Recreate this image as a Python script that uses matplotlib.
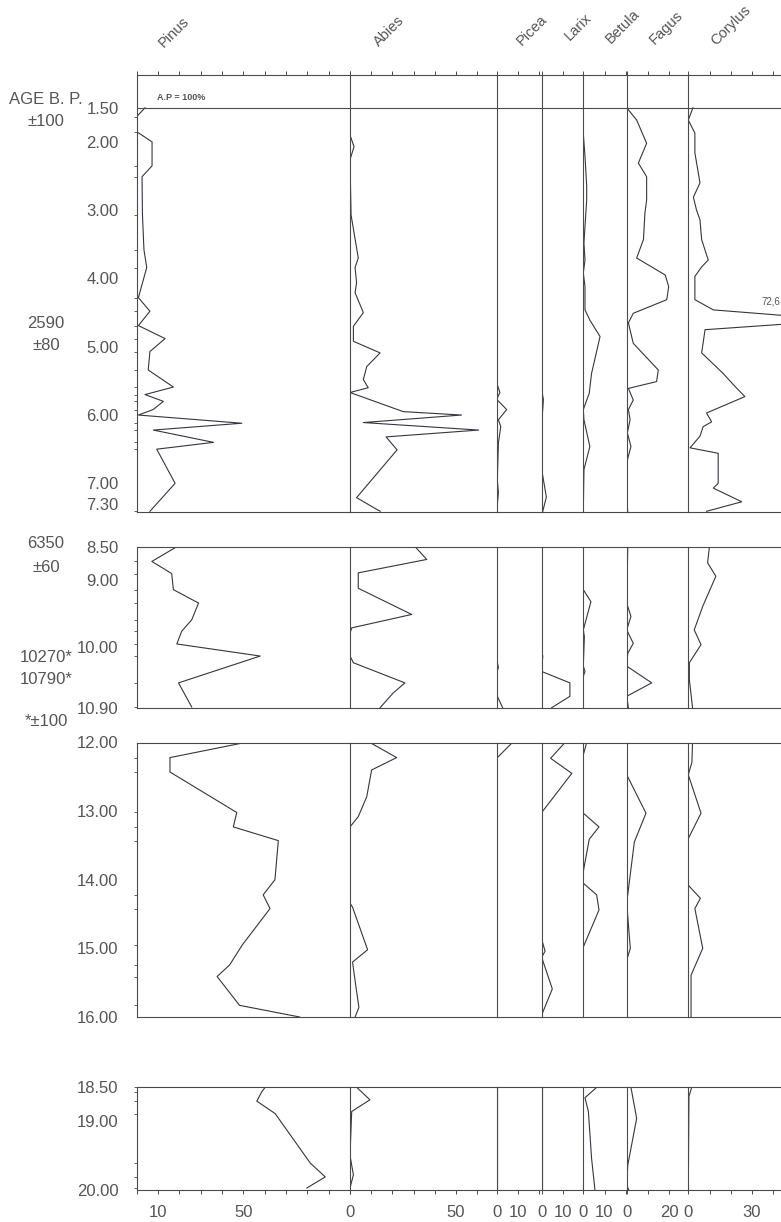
import matplotlib
matplotlib.use('Agg')
import matplotlib.pyplot as plt
from matplotlib.ticker import MultipleLocator, NullLocator

plt.rcParams['font.family'] = ['Liberation Sans', 'DejaVu Sans']

# ---- data: (depth, percent) ----
taxa = ['Pinus', 'Abies', 'Picea', 'Larix', 'Betula', 'Fagus', 'Corylus']

pinus = [
    (1.50, 96.1), (1.63, 100), (1.85, 100), (2.00, 92.8), (2.35, 92.8), (2.51, 97.5),
    (3.07, 97.3), (3.58, 96.6), (3.84, 95.3), (4.28, 99.2), (4.48, 93.8), (4.69, 99.2),
    (4.88, 86.7), (5.07, 93.8), (5.34, 94.6), (5.59, 82.8), (5.70, 96.1), (5.80, 87.5),
    (5.92, 92.3), (6.00, 99.2), (6.12, 50.7), (6.22, 92.2), (6.40, 64.0), (6.50, 90.6),
    (7.00, 82.0), (7.41, 93.8),
    (8.50, 81.2), (8.72, 92.9), (8.90, 83.6), (9.14, 82.8), (9.34, 71.0), (9.59, 74.2),
    (9.76, 78.9), (9.95, 81.2), (10.13, 42.1), (10.53, 80.4), (10.89, 74.2),
    (12.00, 49.2), (12.22, 84.4), (12.43, 84.4), (13.02, 53.1), (13.23, 54.7), (13.43, 33.6),
    (14.00, 35.2), (14.22, 40.7), (14.42, 37.5), (14.95, 50.5), (15.24, 56.4), (15.41, 62.3),
    (15.83, 51.8), (16.00, 23.6),
    (18.51, 39.8), (18.57, 41.3), (18.71, 43.7), (18.89, 35.1), (19.61, 18.6), (19.81, 11.6),
    (19.97, 20.2),
]
abies = [
    (1.50, 0), (1.90, 0), (2.07, 1.9), (2.26, 0), (3.07, 0.5), (3.70, 3.9), (3.84, 2.4),
    (4.06, 3.1), (4.21, 2.4), (4.50, 6.3), (4.70, 1.6), (4.92, 1.6), (5.09, 14.2), (5.29, 7.9),
    (5.48, 6.3), (5.60, 8.6), (5.67, 0), (5.95, 25.1), (6.00, 52.6), (6.11, 6.3), (6.22, 60.7),
    (6.32, 17.0), (6.51, 22.2), (7.21, 3.1), (7.41, 14.2),
    (8.50, 30.7), (8.69, 36.2), (8.89, 3.9), (9.12, 3.9), (9.51, 29.1), (9.71, 0.8), (9.79, 0),
    (10.13, 0), (10.23, 1.6), (10.53, 25.9), (10.68, 20.4), (10.90, 14.2),
    (12.00, 9.4), (12.22, 22.0), (12.40, 10.2), (12.79, 7.9), (13.08, 3.9), (13.23, 0),
    (14.34, 0), (14.40, 1.2), (15.02, 8.3), (15.20, 1.2), (15.56, 2.8), (15.86, 4.2), (16.00, 2.4),
    (18.51, 3.2), (18.69, 9.4), (18.86, 0.8), (19.50, 0), (19.78, 1.6), (19.97, 0),
]
picea = [
    (5.53, 0), (5.67, 1.5), (5.77, 0), (5.92, 4.7), (6.07, 0.8), (6.17, 1.9), (6.41, 0.8),
    (6.95, 0.3), (7.14, 0.8), (7.41, 0),
    (8.50, 0), (10.18, 0), (10.30, 0.8), (10.38, 0), (10.71, 0), (10.90, 2.8),
    (12.00, 7.4), (12.23, 0), (16.00, 0),
    (18.50, 0), (20.00, 0),
]
larix = [
    (1.50, 0), (5.64, 0), (5.77, 0.8), (5.92, 0.5), (6.07, 0), (6.80, 0), (7.20, 2.2), (7.41, 0.5),
    (8.50, 0), (10.06, 0), (10.13, 0.5), (10.36, 0), (10.53, 13.3), (10.73, 13.3), (10.90, 4.7),
    (12.00, 11.0), (12.23, 4.2), (12.45, 14.2), (13.02, 0), (14.87, 0), (15.04, 1.6), (15.13, 0),
    (15.59, 5.0), (15.97, 0), (16.00, 0),
    (18.50, 0), (20.00, 0),
]
betula = [
    (1.50, 0), (1.88, 0), (2.21, 0.8), (2.65, 1.6), (2.85, 1.6), (3.48, 0.3), (3.73, 0.8),
    (3.92, 0), (4.12, 0.8), (4.46, 0.8), (4.61, 3.1), (4.85, 7.9), (5.39, 3.9), (5.68, 2.8),
    (5.92, 0), (6.07, 0.3), (6.46, 3.1), (6.80, 0.3), (7.41, 0),
    (8.50, 0), (9.14, 0), (9.32, 3.6), (9.74, 0), (9.84, 0.5), (10.28, 0), (10.36, 0.8),
    (10.43, 0), (10.90, 0),
    (12.00, 1.6), (12.18, 0), (13.03, 0), (13.23, 7.4), (13.41, 2.8), (13.88, 0), (14.05, 0),
    (14.22, 6.3), (14.44, 7.4), (14.98, 0), (16.00, 0),
    (18.51, 6.3), (18.66, 0.8), (18.86, 2.4), (19.54, 3.9), (20.00, 5.5),
]
fagus = [
    (1.50, 0), (1.68, 4.7), (2.02, 9.4), (2.31, 5.5), (2.51, 9.4), (2.85, 9.4), (3.04, 8.6),
    (3.43, 7.9), (3.70, 4.7), (3.95, 18.2), (4.12, 19.8), (4.31, 18.9), (4.51, 3.1), (4.65, 0.8),
    (4.95, 3.1), (5.34, 14.9), (5.51, 14.1), (5.61, 0.8), (5.78, 3.1), (5.92, 0.8), (6.07, 1.6),
    (6.26, 0.3), (6.46, 2.0), (6.66, 0.3), (7.24, 0), (7.41, 0.5),
    (8.50, 0.5), (9.34, 0), (9.54, 2.0), (9.74, 0), (9.94, 3.1), (10.09, 0.5), (10.28, 0),
    (10.53, 11.8), (10.73, 0), (10.90, 0.8),
    (12.00, 0), (12.47, 0), (13.03, 9.1), (13.45, 3.6), (14.34, 0), (15.00, 1.7), (15.17, 0),
    (16.00, 0),
    (18.51, 2.0), (18.96, 4.7), (19.64, 0.5), (19.93, 0), (20.00, 1.0),
]
corylus = [
    (1.50, 2.2), (1.68, 0), (1.87, 3.1), (2.16, 3.1), (2.45, 4.7), (2.60, 5.5), (2.81, 2.4),
    (3.00, 3.9), (3.14, 5.5), (3.43, 6.3), (3.73, 9.4), (3.83, 6.3), (3.97, 3.1), (4.31, 3.1),
    (4.46, 11.8), (4.61, 72.6), (4.75, 7.9), (5.09, 6.3), (5.39, 16.4), (5.58, 22.0), (5.73, 26.7),
    (5.97, 8.6), (6.10, 11.0), (6.17, 7.0), (6.31, 5.5), (6.48, 0.8), (6.56, 14.1), (7.00, 14.1),
    (7.07, 11.8), (7.27, 25.2), (7.41, 8.6),
    (8.52, 9.9), (8.74, 9.1), (8.94, 13.0), (9.39, 6.8), (9.74, 2.8), (9.96, 6.0), (10.23, 0.5),
    (10.48, 0.5), (10.90, 2.0),
    (12.00, 2.0), (12.29, 1.7), (12.47, 0), (13.03, 6.0), (13.40, 0), (14.08, 0), (14.27, 5.7),
    (14.42, 3.1), (15.00, 6.8), (15.39, 1.3), (16.00, 1.3),
    (18.51, 1.6), (18.64, 0.3), (20.00, 0),
]
series = [pinus, abies, picea, larix, betula, fagus, corylus]

depth_labels = [
    [1.50, 2.00, 3.00, 4.00, 5.00, 6.00, 7.00, 7.30],
    [8.50, 9.00, 10.00, 10.90],
    [12.00, 13.00, 14.00, 15.00, 16.00],
    [18.50, 19.00, 20.00],
]
bottom_ticks = [([90, 50], ['10', '50']), ([0, 50], ['0', '50']), ([0, 10], ['0', '10']),
                ([0, 10], ['0', '10']), ([0, 10], ['0', '10']), ([0, 20], ['0', '20']),
                ([0, 30], ['0', '30'])]
dates = [('AGE B. P.', 99), ('\u00b1100', 121), ('2590', 323), ('\u00b180', 345),
         ('6350', 544), ('\u00b160', 567), ('10270*', 657), ('10790*', 679), ('*\u00b1100', 721)]

# ---- layout (pixels of the 781x1222 page) ----
W, H = 781, 1222
PX = 2.12  # pixels per percent
col_edges = [136.7, 350, 496.7, 541.7, 583.3, 626.7, 688.3, 800]
# depth top, depth bottom, pixel top, pixel bottom
sections = [(1.02, 7.42, 75, 512), (8.50, 10.90, 546.7, 707.7),
            (12.00, 16.00, 742.5, 1017), (18.50, 20.00, 1086.7, 1190)]
name_pos = [(174, 32), (389, 31), (532, 30), (578, 27), (623, 26), (666, 28), (731, 25)]

LINE = '#4a4a4a'
CURVE = '#3a3340'
TEXT = '#555555'


def rect(x0, y0, x1, y1):
    return [x0 / W, 1 - y1 / H, (x1 - x0) / W, (y1 - y0) / H]


fig = plt.figure(figsize=(W / 100, H / 100), dpi=100)

for s, (d_top, d_bot, y_top, y_bot) in enumerate(sections):
    lo = 1.5 if s == 0 else d_top
    for c, name in enumerate(taxa):
        x0, x1 = col_edges[c], col_edges[c + 1]
        ax = fig.add_axes(rect(x0, y_top, x1, y_bot))
        ax.patch.set_visible(False)
        width = (x1 - x0) / PX
        if c == 0:
            ax.set_xlim(100, 0)
        else:
            ax.set_xlim(0, width)
        ax.set_ylim(d_bot, d_top)
        for sp in ax.spines.values():
            sp.set_color(LINE)
            sp.set_linewidth(0.8)
        ax.spines['right'].set_visible(False)
        ax.tick_params(which='both', left=False, right=False, top=False, bottom=False,
                       labelleft=False, labelbottom=False, colors=LINE)
        ax.xaxis.set_major_locator(NullLocator())
        ax.yaxis.set_major_locator(NullLocator())

        pts = [p for p in series[c] if lo <= p[0] <= d_bot]
        ax.plot([p[1] for p in pts], [p[0] for p in pts], color=CURVE, lw=0.8)

        if s == 0:
            ax.axhline(1.5, color=LINE, lw=0.8)
            ax.xaxis.set_minor_locator(MultipleLocator(10))
            ax.tick_params(axis='x', which='minor', top=True, direction='out', length=3, width=0.7)
        if s == len(sections) - 1:
            ax.xaxis.set_minor_locator(MultipleLocator(10))
            ax.set_xticks(bottom_ticks[c][0], bottom_ticks[c][1])
            ax.tick_params(axis='x', which='both', bottom=True, direction='out', length=3, width=0.7)
            ax.tick_params(axis='x', which='major', labelbottom=True, pad=8,
                           labelsize=12, labelcolor=TEXT)
        if c == 0:
            ax.set_yticks(depth_labels[s], ['%.2f' % d for d in depth_labels[s]])
            ax.tick_params(axis='y', which='major', length=0, pad=13, labelleft=True,
                           labelsize=12, labelcolor=TEXT)
            ax.set_yticks([p[0] for p in pts], minor=True)
            ax.tick_params(axis='y', which='minor', left=True, direction='out', length=2.5, width=0.6)
        if s == 0 and c == len(taxa) - 1:
            ax.text(34.5, 4.34, '72,6', fontsize=7, color=TEXT, va='center', ha='left')

for (x, y), name in zip(name_pos, taxa):
    fig.text(x / W, 1 - y / H, name, rotation=45, ha='center', va='center',
             rotation_mode='anchor', fontsize=10.5, color=TEXT)

for label, y in dates:
    fig.text(46 / W, 1 - y / H, label, ha='center', va='center', fontsize=12, color=TEXT)

fig.text(157 / W, 1 - 98 / H, 'A.P = 100%', ha='left', va='center', fontsize=6.5,
         fontweight='bold', color=TEXT)

fig.savefig('out.png', dpi=100)
